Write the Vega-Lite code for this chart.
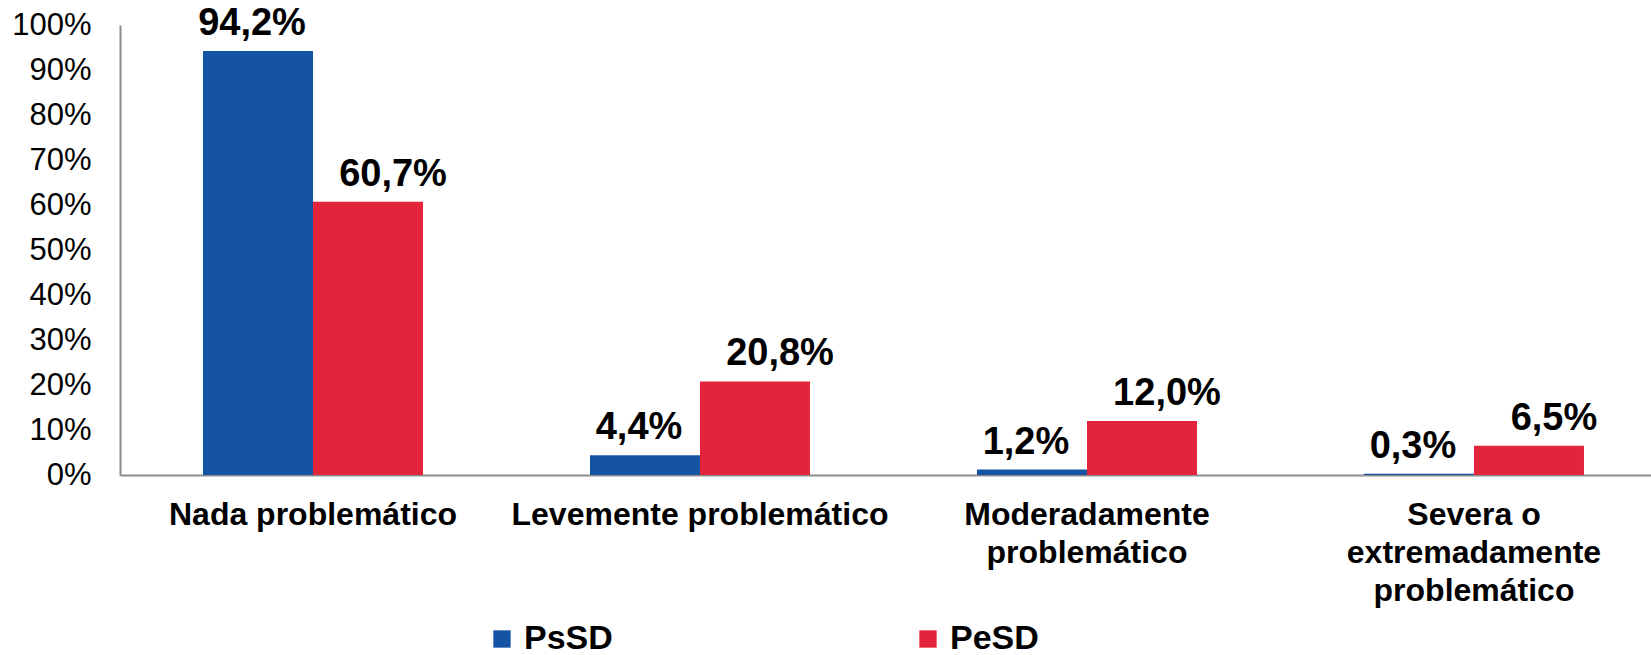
{
  "$schema": "https://vega.github.io/schema/vega-lite/v6.json",
  "autosize": {"type": "none"},
  "padding": {"left": 120, "top": 25, "right": -16, "bottom": 180},
  "width": 1547,
  "height": 450,
  "background": "white",
  "config": {
    "view": {"stroke": null},
    "font": "Liberation Sans"
  },
  "data": {
    "values": [
      {"categoria": "Nada problemático", "grupo": "PsSD", "valor": 94.2},
      {"categoria": "Nada problemático", "grupo": "PeSD", "valor": 60.7},
      {"categoria": "Levemente problemático", "grupo": "PsSD", "valor": 4.4},
      {"categoria": "Levemente problemático", "grupo": "PeSD", "valor": 20.8},
      {"categoria": "Moderadamente problemático", "grupo": "PsSD", "valor": 1.2},
      {"categoria": "Moderadamente problemático", "grupo": "PeSD", "valor": 12.0},
      {"categoria": "Severa o extremadamente problemático", "grupo": "PsSD", "valor": 0.3},
      {"categoria": "Severa o extremadamente problemático", "grupo": "PeSD", "valor": 6.5}
    ]
  },
  "transform": [
    {"calculate": "replace(format(datum.valor, '.1f'), '.', ',') + '%'", "as": "etiqueta"}
  ],
  "encoding": {
    "x": {
      "field": "categoria",
      "type": "nominal",
      "sort": ["Nada problemático", "Levemente problemático", "Moderadamente problemático", "Severa o extremadamente problemático"],
      "scale": {"paddingInner": 0.4315, "paddingOuter": 0.2145},
      "axis": {
        "title": null,
        "labelAngle": 0,
        "labelFont": "Liberation Sans",
        "labelFontWeight": "bold",
        "labelFontSize": 32,
        "labelColor": "#000000",
        "labelLimit": 0,
        "labelBaseline": "top",
        "labelLineHeight": 38,
        "labelPadding": 24,
        "ticks": false,
        "tickSize": 0,
        "domainColor": "#8c8c8c",
        "domainWidth": 2,
        "labelExpr": "datum.value == 'Moderadamente problemático' ? ['Moderadamente', 'problemático'] : datum.value == 'Severa o extremadamente problemático' ? ['Severa o', 'extremadamente', 'problemático'] : datum.value"
      }
    },
    "xOffset": {
      "field": "grupo",
      "type": "nominal",
      "sort": ["PsSD", "PeSD"],
      "scale": {"paddingInner": 0, "paddingOuter": 0}
    },
    "y": {
      "field": "valor",
      "type": "quantitative",
      "scale": {"domain": [0, 100], "nice": false},
      "axis": {
        "title": null,
        "values": [0, 10, 20, 30, 40, 50, 60, 70, 80, 90, 100],
        "labelExpr": "datum.value + '%'",
        "labelFont": "Liberation Sans",
        "labelFontSize": 31,
        "labelColor": "#000000",
        "labelPadding": 29,
        "ticks": false,
        "tickSize": 0,
        "grid": false,
        "domainColor": "#8c8c8c",
        "domainWidth": 2
      }
    }
  },
  "layer": [
    {
      "mark": {"type": "bar"},
      "encoding": {
        "color": {
          "field": "grupo",
          "type": "nominal",
          "sort": ["PsSD", "PeSD"],
          "scale": {"domain": ["PsSD", "PeSD"], "range": ["#1554A4", "#E2253A"]},
          "legend": {
            "title": null,
            "orient": "none",
            "direction": "horizontal",
            "legendX": 365,
            "legendY": 597,
            "padding": 0,
            "symbolType": "square",
            "symbolSize": 300,
            "symbolStrokeWidth": 0,
            "labelFont": "Liberation Sans",
            "labelFontWeight": "bold",
            "labelFontSize": 34,
            "labelColor": "#000000",
            "labelOffset": 5,
            "labelLimit": 0,
            "columnPadding": 298
          }
        }
      }
    },
    {
      "transform": [{"filter": "datum.grupo == 'PsSD'"}],
      "mark": {"type": "text", "font": "Liberation Sans", "fontWeight": "bold", "fontSize": 38, "color": "#000000", "baseline": "alphabetic", "align": "center", "dx": -6, "dy": -16},
      "encoding": {"text": {"field": "etiqueta"}}
    },
    {
      "transform": [{"filter": "datum.grupo == 'PeSD'"}],
      "mark": {"type": "text", "font": "Liberation Sans", "fontWeight": "bold", "fontSize": 38, "color": "#000000", "baseline": "alphabetic", "align": "center", "dx": 25, "dy": -16},
      "encoding": {"text": {"field": "etiqueta"}}
    }
  ]
}
